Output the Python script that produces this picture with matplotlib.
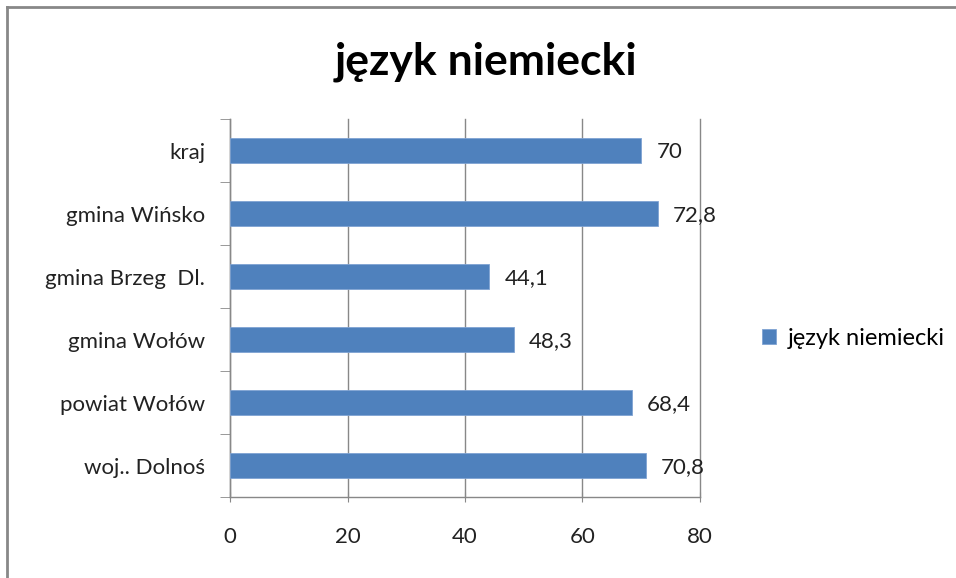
import matplotlib.pyplot as plt
from matplotlib.lines import Line2D

categories = ["woj.. Dolnoś", "powiat Wołów", "gmina Wołów", "gmina Brzeg  Dl.", "gmina Wińsko", "kraj"]
values = [70.8, 68.4, 48.3, 44.1, 72.8, 70.0]
value_labels = ["70,8", "68,4", "48,3", "44,1", "72,8", "70"]
series_name = "język niemiecki"
xticks = [0, 20, 40, 60, 80]

plt.rcParams['font.family'] = ['Lato', 'DejaVu Sans']
blue = "#4F81BD"

fig = plt.figure(figsize=(9.56, 5.78), dpi=100)
ax = fig.add_axes([0.2406, 0.1401, 0.4916, 0.654])

pos = range(len(categories))
ax.barh(pos, values, height=0.4, color=blue, edgecolor="#7FA3D3", linewidth=0.6,
        label=series_name, zorder=3)
for p, v, t in zip(pos, values, value_labels):
    ax.annotate(t, (v, p), xytext=(11, -1), textcoords="offset points",
                va="center", ha="left", fontsize=16, color="#222222", zorder=4)

ax.set_xlim(0, 80)
ax.set_ylim(-0.5, len(categories) - 0.5)
ax.set_xticks(xticks)
ax.set_xticklabels([str(x) for x in xticks], fontsize=16, color="#222222")
ax.set_yticks(list(pos))
ax.set_yticklabels(categories, fontsize=16, color="#222222")
ax.set_yticks([p - 0.5 for p in range(len(categories) + 1)], minor=True)
ax.tick_params(axis="y", which="major", length=0, pad=18)
ax.tick_params(axis="y", which="minor", length=7, color="#888888", direction="out")
ax.tick_params(axis="x", length=7, color="#888888", direction="inout", pad=18)
ax.grid(axis="x", color="#888888", linewidth=1, zorder=0)
for gl in ax.get_xgridlines():
    gl.set_clip_on(False)
for s in ["top", "right"]:
    ax.spines[s].set_visible(False)
for s in ["left", "bottom"]:
    ax.spines[s].set_color("#888888")
    ax.spines[s].set_linewidth(1)

fig.text(0.508, 0.893, "język niemiecki", ha="center", va="center",
         fontsize=32, fontweight="bold")

fig.legend(loc="center left", bbox_to_anchor=(0.775, 0.415), frameon=False,
           fontsize=17, handlelength=0.6, handleheight=0.6, handletextpad=0.5)

# chart area border (top and left visible)
fig.add_artist(Line2D([0.007, 1.0], [0.988, 0.988], color="#888888", linewidth=2,
                      transform=fig.transFigure))
fig.add_artist(Line2D([0.007, 0.007], [0.0, 0.988], color="#888888", linewidth=2,
                      transform=fig.transFigure))

fig.savefig("out.png", dpi=100)
